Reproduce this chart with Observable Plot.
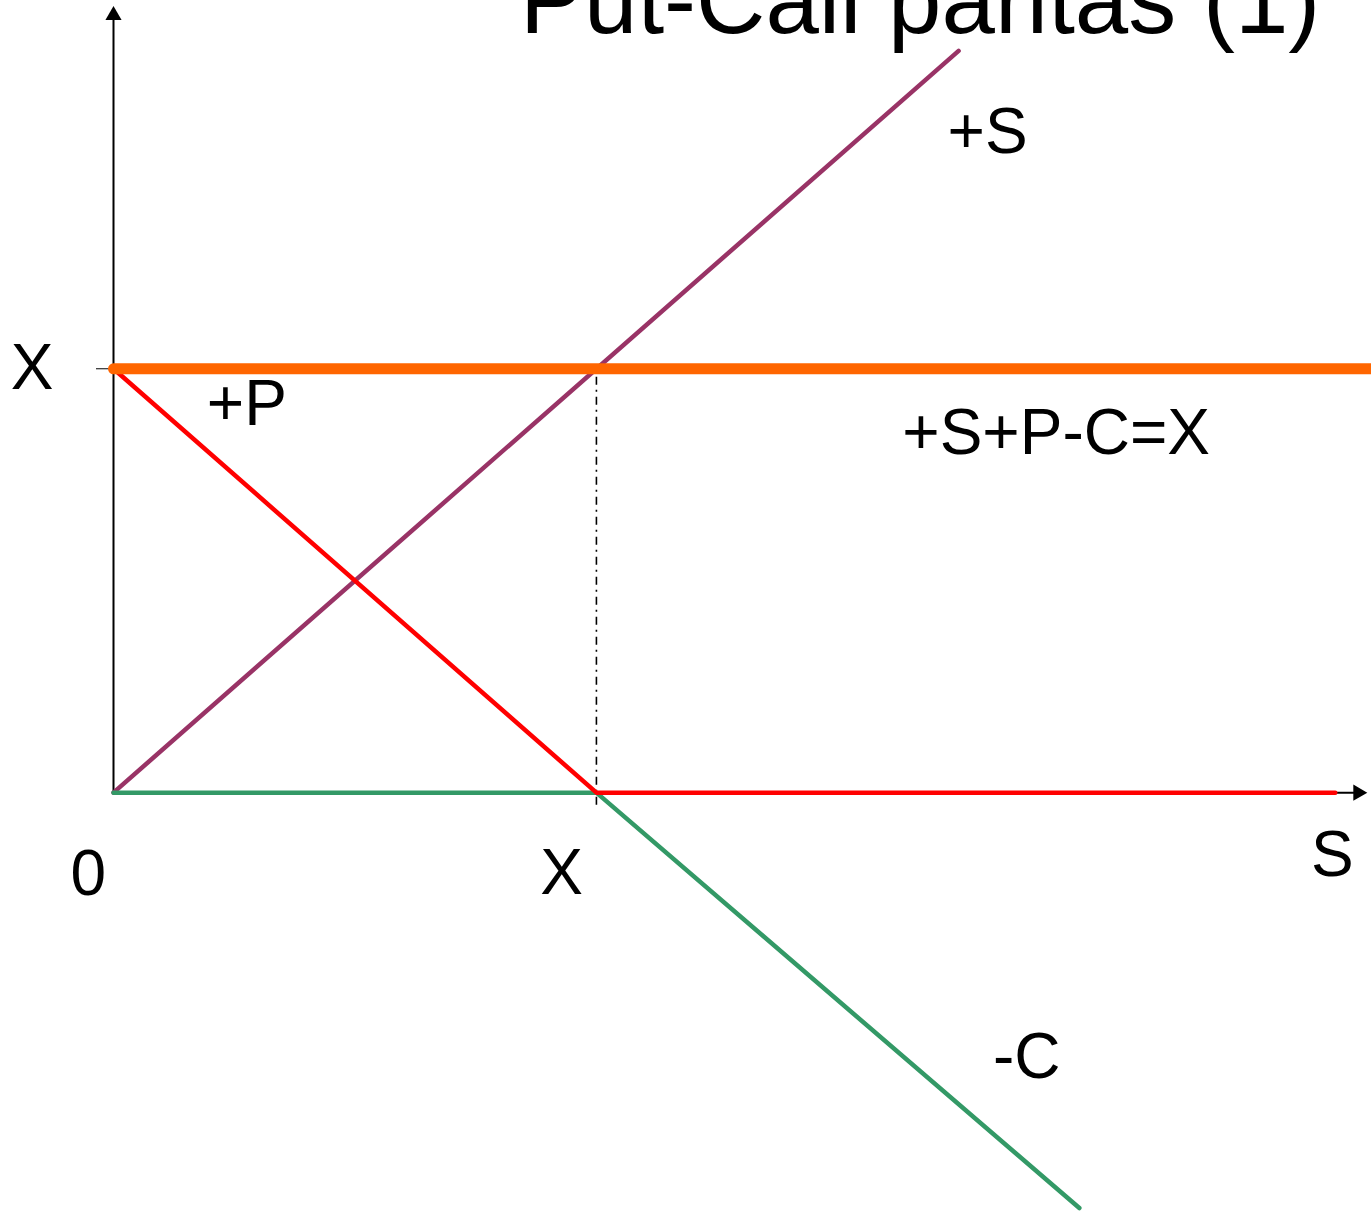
<!DOCTYPE html>
<html>
<head>
<meta charset="utf-8">
<script src="https://cdn.jsdelivr.net/npm/d3@7"></script>
<script src="https://cdn.jsdelivr.net/npm/@observablehq/plot@0.6"></script>
<style>
  html, body { margin: 0; padding: 0; background: #fff; overflow: hidden; }
  #wrap { position: relative; width: 1371px; height: 1212px; }
  #title { position: absolute; left: 520px; top: -48px; font-family: "Liberation Sans", Arial, sans-serif; font-size: 96px; line-height: 1; color: #000; white-space: nowrap; z-index: 2; }
  #chart { position: absolute; left: 0; top: 0; }
</style>
</head>
<body>
<div id="wrap">
  <div id="title">Put-Call paritas (1)</div>
  <div id="chart"></div>
</div>
<script>
// Strike price
const X = 100;

// Payoff series (S = stock price at expiry, V = payoff value)
const stockS = [0, 175];
const stockV = [0, 175];
const putS = [0, 100, 253];
const putV = [100, 0, 0];
const callS = [0, 100, 200];
const callV = [0, 0, -98];
const sumS = [0, 260.5];
const sumV = [100, 100];

// Series labels
const labelText = ["+S", "+P", "+S+P-C=X", "-C"];
const labelS = [181.0, 27.6, 195.2, 189.1];
const labelV = [155.7, 91.6, 84.8, -62.6];

// Axis labels
const axisText = ["0", "X", "S"];
const axisS = [-5.2, 92.8, 252.4];
const axisV = [-19.3, -19.1, -14.8];
const yTickValues = [X];
const yTickLabels = ["X"];

// Axis extents (arrow tips)
const xAxisEnd = 257.7;
const yAxisEnd = 183.4;

const FONT = "Liberation Sans, Arial, sans-serif";
const FS = 64;

const toRows = (xs, ys) => xs.map((s, i) => ({s, v: ys[i]}));

const stock = toRows(stockS, stockV);
const put = toRows(putS, putV);
const call = toRows(callS, callV);
const sum = toRows(sumS, sumV);
const labels = labelText.map((t, i) => ({t, s: labelS[i], v: labelV[i]}));
const axisLabels = axisText.map((t, i) => ({t, s: axisS[i], v: axisV[i]}));
const arrows = [{s: 0, v: yAxisEnd, rot: 0}, {s: xAxisEnd, v: 0, rot: 90}];

const chart = Plot.plot({
  width: 1371,
  height: 1212,
  marginLeft: 113,
  marginRight: 0,
  marginTop: 8,
  marginBottom: 0,
  style: {background: "transparent", overflow: "visible", fontFamily: FONT},
  x: {domain: [0, 260.5], axis: null, label: null},
  y: {domain: [-100, 185], range: [1216, 8], axis: null, label: null},
  marks: [
    // axes
    Plot.ruleX([0], {y1: 0, y2: yAxisEnd, stroke: "black", strokeWidth: 2}),
    Plot.ruleY([0], {x1: 0, x2: xAxisEnd, stroke: "black", strokeWidth: 2}),
    Plot.axisY({ticks: yTickValues, tickFormat: (d, i) => yTickLabels[i], label: null, tickSize: 17, tickPadding: 43, fontSize: FS, fontFamily: FONT, stroke: "black", fill: "black", strokeWidth: 1}),
    // dash-dot at strike
    Plot.ruleX([X], {y1: -3, y2: X, stroke: "black", strokeWidth: 1.6, strokeDasharray: "8,5,2,5"}),
    // payoff lines
    Plot.line(stock, {x: "s", y: "v", stroke: "#993366", strokeWidth: 4.5}),
    Plot.line(call, {x: "s", y: "v", stroke: "#339966", strokeWidth: 4.5}),
    Plot.line(put, {x: "s", y: "v", stroke: "#FF0000", strokeWidth: 4.5}),
    Plot.line(sum, {x: "s", y: "v", stroke: "#FF6600", strokeWidth: 11}),
    // arrow heads
    Plot.dot(arrows, {x: "s", y: "v", rotate: "rot", symbol: "triangle", r: 6, fill: "black", stroke: "none"}),
    // labels
    Plot.text(labels, {x: "s", y: "v", text: "t", fontSize: FS, fontFamily: FONT, fill: "black", textAnchor: "middle"}),
    Plot.text(axisLabels, {x: "s", y: "v", text: "t", fontSize: FS, fontFamily: FONT, fill: "black", textAnchor: "middle"})
  ]
});
document.getElementById("chart").appendChild(chart);
</script>
</body>
</html>
